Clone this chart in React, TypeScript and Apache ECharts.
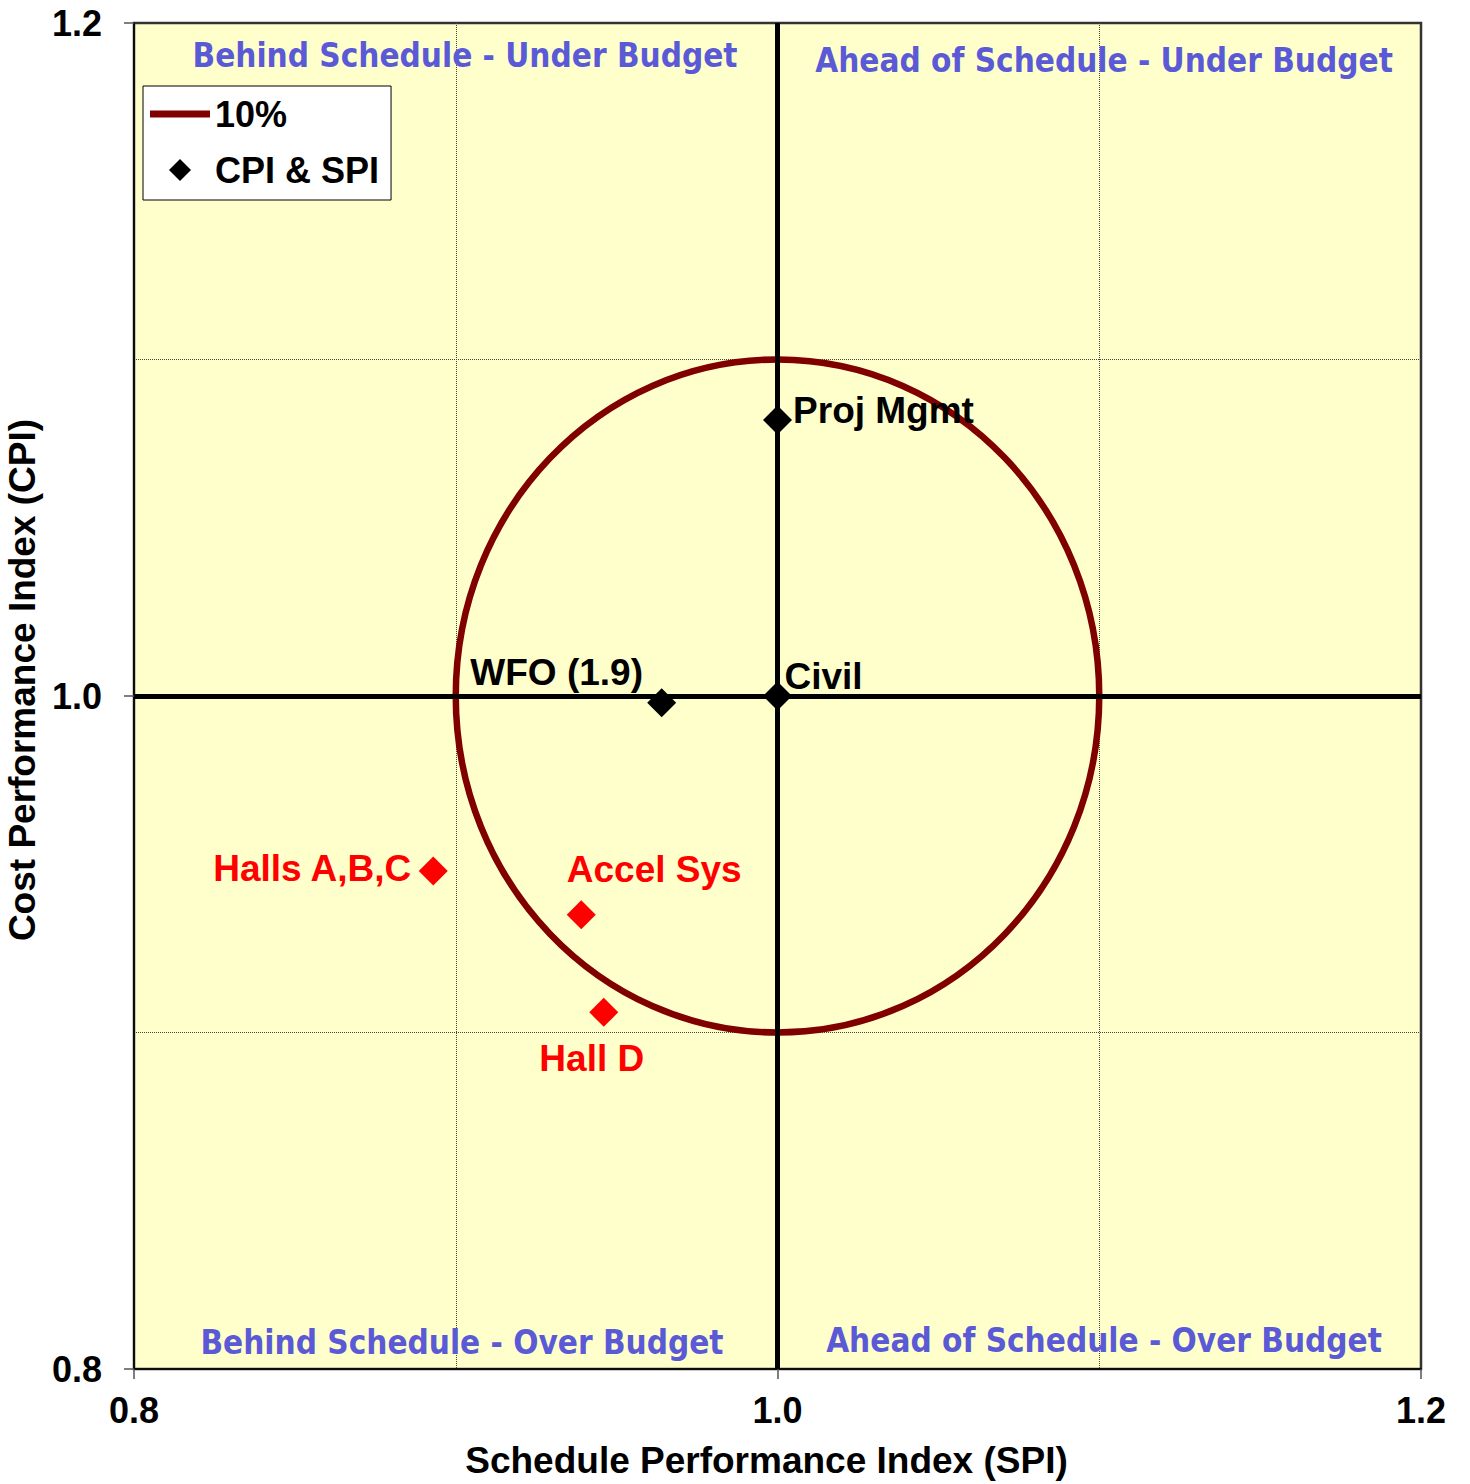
import React, { useEffect, useRef } from "react";
import * as echarts from "echarts";

// ---- data ----
const pointNames = ["Proj Mgmt", "Civil", "WFO (1.9)", "Halls A,B,C", "Accel Sys", "Hall D"];
const spiValues = [1.0, 1.0, 0.964, 0.893, 0.939, 0.946];
const cpiValues = [1.082, 1.0, 0.998, 0.948, 0.935, 0.906];
const pointWarn = [false, false, false, true, true, true];

const thresholdCenter = [1.0, 1.0];
const thresholdRadius = 0.1; // 10%

const axisMin = 0.8;
const axisMax = 1.2;
const axisStep = 0.2;
const referenceLines = [1.0];

const quadrantTexts = [
  "Behind Schedule - Under Budget",
  "Ahead of Schedule - Under Budget",
  "Behind Schedule - Over Budget",
  "Ahead of Schedule - Over Budget",
];

const xTitle = "Schedule Performance Index (SPI)";
const yTitle = "Cost Performance Index (CPI)";
const circleName = "10%";
const pointsName = "CPI & SPI";

// ---- styling (positions / offsets kept apart from data) ----
const FONT = "'Liberation Sans', Arial, Helvetica, sans-serif";
const QFONT = "'DejaVu Sans Condensed', 'Liberation Sans Narrow', 'DejaVu Sans', sans-serif";
const labelOffsets: Record<string, number[]> = {
  "Proj Mgmt": [106, -10],
  Civil: [46, -20],
  "WFO (1.9)": [-105, -30],
  "Halls A,B,C": [-121, -2],
  "Accel Sys": [73, -45],
  "Hall D": [-12, 46],
};
const quadrantPos = [
  [465, 55],
  [1104, 60],
  [462, 1342],
  [1104, 1340],
];

export default function App() {
  const ref = useRef<HTMLDivElement>(null);

  useEffect(() => {
    if (!ref.current) return;
    const chart = echarts.init(ref.current, null, { renderer: "svg" });

    const axisCommon = (name: string, isX: boolean) => ({
      type: "value",
      min: axisMin,
      max: axisMax,
      interval: axisStep,
      name,
      nameLocation: "middle",
      nameGap: isX ? 73 : 85,
      nameTextStyle: {
        fontSize: 37,
        fontWeight: "bold",
        color: "#000",
        fontFamily: FONT,
        padding: isX ? [0, 22, 0, 0] : [0, 0, 0, 32],
      },
      axisLine: { show: true, onZero: false, lineStyle: { color: "#000", width: 1.5 } },
      axisTick: { show: true, length: 10, lineStyle: { color: "#555", width: 1.5 } },
      axisLabel: {
        fontSize: 36,
        fontWeight: "bold",
        color: "#000",
        fontFamily: FONT,
        margin: isX ? 23 : 32,
        formatter: (v: number) => v.toFixed(1),
      },
      splitLine: { show: false },
      minorTick: { show: false, splitNumber: 2 },
      minorSplitLine: { show: true, lineStyle: { color: "#444", type: "dotted", width: 1 } },
    });

    const option: any = {
      animation: false,
      backgroundColor: "#ffffff",
      grid: {
        left: 134,
        right: 49,
        top: 23,
        bottom: 115,
        containLabel: false,
        outerBoundsMode: "none",
        show: true,
        backgroundColor: "#FFFFCC",
        borderColor: "#333",
        borderWidth: 2.5,
      },
      xAxis: axisCommon(xTitle, true),
      yAxis: axisCommon(yTitle, false),
      legend: {
        left: 143,
        top: 86,
        orient: "vertical",
        padding: [10, 12, 12, 7],
        itemGap: 20,
        itemWidth: 60,
        itemHeight: 22,
        backgroundColor: "#ffffff",
        borderColor: "#000",
        borderWidth: 1,
        selectedMode: false,
        textStyle: { fontSize: 36, fontWeight: "bold", color: "#000", fontFamily: FONT },
        data: [
          { name: circleName, icon: "path://M0,0L60,0L60,7L0,7Z" },
          { name: pointsName, icon: "path://M1,0L2,1L1,2L0,1Z" },
        ],
      },
      graphic: quadrantTexts.map((t, i) => ({
        type: "text",
        x: quadrantPos[i][0],
        y: quadrantPos[i][1],
        z: 2,
        silent: true,
        style: {
          text: t,
          fill: "#5A5AD7",
          fontSize: 33,
          fontWeight: "bold",
          fontFamily: QFONT,
          align: "center",
          verticalAlign: "middle",
        },
      })),
      series: [
        {
          type: "custom",
          name: circleName,
          z: 3,
          itemStyle: { color: "#800000" },
          encode: { x: 0, y: 1 },
          data: [[thresholdCenter[0], thresholdCenter[1], thresholdRadius]],
          renderItem: (params: any, api: any) => {
            const c = api.coord([api.value(0), api.value(1)]);
            const s = api.size([api.value(2), api.value(2)]);
            return {
              type: "ellipse",
              shape: { cx: c[0], cy: c[1], rx: s[0], ry: s[1] },
              style: { fill: "none", stroke: "#800000", lineWidth: 6.5 },
            };
          },
        },
        {
          type: "scatter",
          name: pointsName,
          z: 5,
          symbol: "diamond",
          symbolSize: 29,
          itemStyle: { color: "#000", opacity: 1 },
          data: pointNames.map((n, i) => {
            const col = pointWarn[i] ? "#FF0000" : "#000000";
            return {
              name: n,
              value: [spiValues[i], cpiValues[i]],
              itemStyle: { color: col, opacity: 1 },
              label: {
                show: true,
                formatter: n,
                position: "inside",
                offset: labelOffsets[n],
                color: col,
                opacity: 1,
                fontSize: 37,
                fontWeight: "bold",
                fontFamily: FONT,
              },
            };
          }),
          markLine: {
            silent: true,
            symbol: ["none", "none"],
            label: { show: false },
            lineStyle: { color: "#000", width: 5, type: "solid", opacity: 1 },
            data: [
              ...referenceLines.map((v) => ({ xAxis: v })),
              ...referenceLines.map((v) => ({ yAxis: v })),
            ],
          },
        },
      ],
    };

    chart.setOption(option);
    return () => chart.dispose();
  }, []);

  return (
    <div
      ref={ref}
      style={{ position: "fixed", left: 0, top: 0, width: 1470, height: 1484, background: "#fff" }}
    />
  );
}
